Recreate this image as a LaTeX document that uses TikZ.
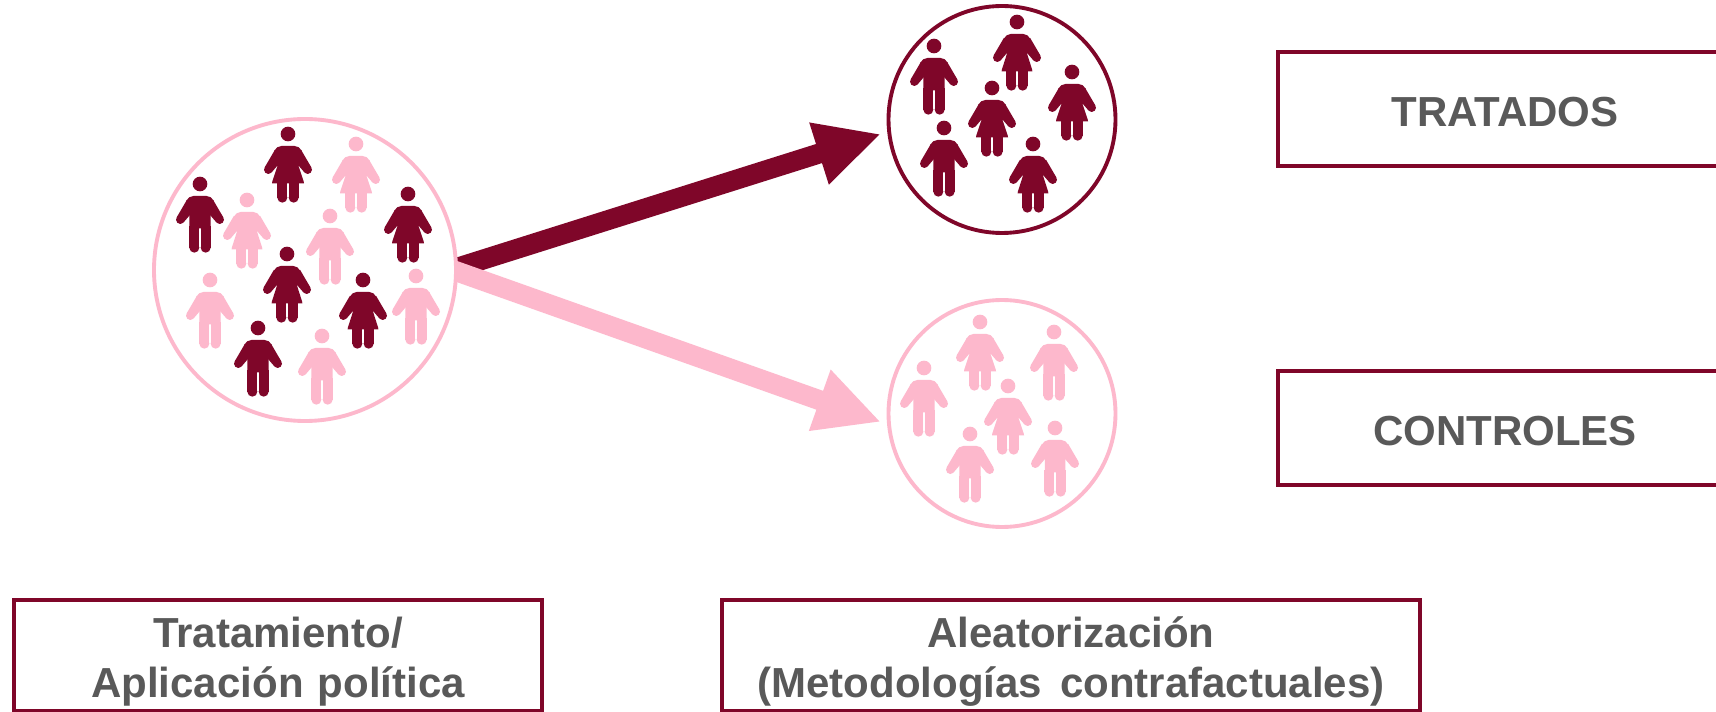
\documentclass[tikz,border=0pt]{standalone}
\usepackage{fontspec}
\setmainfont{Liberation Sans}
\usetikzlibrary{arrows.meta}
\definecolor{wine}{HTML}{7F0629}
\definecolor{rosa}{HTML}{FDB8CC}
\definecolor{txtgray}{HTML}{595959}
\tikzset{
  x=.75pt,y=-.75pt,
  boxshape/.style={draw=wine,line width=3pt,fill=white,inner sep=0pt},
  boxlabel/.style={inner sep=0pt,align=center,text=txtgray,
    font=\fontsize{31.5}{37.5}\selectfont\bfseries},
  ring/.style={circle,draw=#1,line width=2.9pt,fill=white,inner sep=0pt},
  bigarrow/.style={draw=#1,line width=15pt,-{Triangle[length=48.75pt,width=45pt,fill=#1]}},
  pics/uppershape/.style={code={
    \fill[#1] (0,0) circle[radius=22];
    \fill[#1] (39.2,47.5)--(70.2,100.5)--(47.8,113.5)--(31,94)--(16.8,60.5)--cycle;
    \fill[#1] (59,107) circle[radius=13];
    \fill[#1] (-39.2,47.5)--(-70.2,100.5)--(-47.8,113.5)--(-31,94)--(-16.8,60.5)--cycle;
    \fill[#1] (-59,107) circle[radius=13];
    \fill[#1] (-32,125) rectangle (-2,191);
    \fill[#1] (-17,191) circle[radius=15];
    \fill[#1] (32,125) rectangle (2,191);
    \fill[#1] (17,191) circle[radius=15];
  }},
  pics/hombre/.style={code={
    \pic {uppershape=#1};
    \fill[#1] (-20,36)--(20,36) .. controls (30,36) and (36,42) .. (41,50)--(32,85)--(32,133)--(-32,133)--(-32,85)--(-41,50) .. controls (-36,42) and (-30,36) .. (-20,36)--cycle;
  }},
  pics/mujer/.style={code={
    \pic {uppershape=#1};
    \fill[#1] (-20,36)--(20,36) .. controls (30,36) and (36,42) .. (41,50)--(32,97)--(47,142)--(48,148)--(-48,148)--(-47,142)--(-32,97)--(-41,50) .. controls (-36,42) and (-30,36) .. (-20,36)--cycle;
  }},
}
\begin{document}
\begin{tikzpicture}
\useasboundingbox (0,0) rectangle (1716,712);
\clip (0,0) rectangle (1716,712);
\fill[white] (0,0) rectangle (1716,712);

\coordinate (darkstart) at (450,270);
\coordinate (darktip) at (881,134);
\coordinate (pinkstart) at (447,268);
\coordinate (pinktip) at (881,422);
\draw[bigarrow=wine] (darkstart) -- (darktip);
\draw[bigarrow=rosa] (pinkstart) -- (pinktip);

\node[ring=rosa,minimum size=302*.75pt] (poblacion) at (305,270) {};
\node[ring=wine,minimum size=227*.75pt] (tratadoscirc) at (1002,119.5) {};
\node[ring=rosa,minimum size=227*.75pt] (controlescirc) at (1002,413.5) {};

\begin{scope}[shift={(140,110)},x=.25pt,y=-.25pt]
  \pic at (444,72) {mujer=wine};
  \pic at (648,102) {mujer=rosa};
  \pic at (180,222) {hombre=wine};
  \pic[xscale=.96] at (321,270) {mujer=rosa};
  \pic at (570,318) {hombre=rosa};
  \pic at (804,252) {mujer=wine};
  \pic[xscale=.96] at (441,432) {mujer=wine};
  \pic at (210,510) {hombre=rosa};
  \pic[xscale=.96] at (669,510) {mujer=wine};
  \pic at (828,498) {hombre=rosa};
  \pic at (354,654) {hombre=wine};
  \pic at (546,678) {hombre=rosa};
\end{scope}
\begin{scope}[shift={(870,0)},x=.25pt,y=-.25pt]
  \pic[xscale=.96] at (441,66) {mujer=wine};
  \pic at (192,138) {hombre=wine};
  \pic at (606,216) {mujer=wine};
  \pic at (366,264) {mujer=wine};
  \pic at (222,384) {hombre=wine};
  \pic[xscale=.96] at (489,432) {mujer=wine};
\end{scope}
\begin{scope}[shift={(870,290)},x=.25pt,y=-.25pt]
  \pic at (330,96) {mujer=rosa};
  \pic at (552,126) {hombre=rosa};
  \pic at (162,234) {hombre=rosa};
  \pic at (414,288) {mujer=rosa};
  \pic at (300,432) {hombre=rosa};
  \pic[xscale=.96] at (555,414) {hombre=rosa};
\end{scope}

\node[boxshape,minimum width=454*.75pt,minimum height=114*.75pt] (tratados) at (1505,109.5) {};
\node[boxlabel] (tratadoslabel) at (1505,112) {TRATADOS};
\node[boxshape,minimum width=454*.75pt,minimum height=114*.75pt] (controles) at (1505,428) {};
\node[boxlabel] (controleslabel) at (1505,431) {CONTROLES};
\node[boxshape,minimum width=528*.75pt,minimum height=111*.75pt] (tratamiento) at (278,655) {};
\node[boxlabel] (tratamientolabel) at (278,662) {Tratamiento/\\Aplicación\hspace{10.5pt}política};
\node[boxshape,minimum width=698*.75pt,minimum height=111*.75pt] (aleatorizacion) at (1071,655) {};
\node[boxlabel] (aleatorizacionlabel) at (1071,662) {Aleatorización\\(Metodologías\hspace{13.5pt}contrafactuales)};
\end{tikzpicture}
\end{document}
